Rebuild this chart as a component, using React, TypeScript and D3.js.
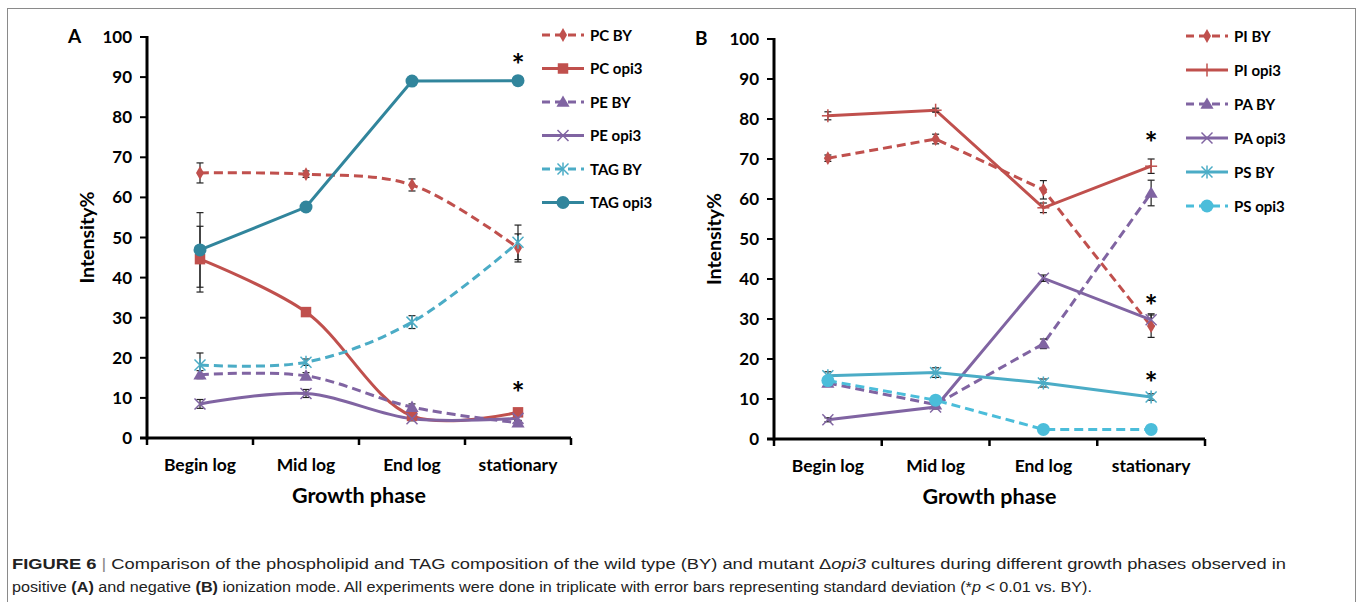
import React from "react";
import * as d3 from "d3";

// growth phases (x categories)
const categories = ["Begin log", "Mid log", "End log", "stationary"];
const yTicks = [0, 10, 20, 30, 40, 50, 60, 70, 80, 90, 100];

// panel A - positive ionization (intensity %)
const pcBY = [66.1, 65.8, 63.1, 47.4];
const pcBYErr = [2.5, 0.8, 1.5, 3.5];
const pcOpi3 = [44.6, 31.4, 5.5, 6.4];
const pcOpi3Err = [8.2, 0.8, 0.5, 0.5];
const peBY = [15.8, 15.5, 7.7, 3.8];
const peBYErr = [1, 0.8, 0.8, 0.5];
const peOpi3 = [8.5, 11.1, 4.8, 4.9];
const peOpi3Err = [1.1, 1, 0.5, 0.5];
const tagBY = [18.2, 18.9, 28.9, 48.8];
const tagBYErr = [3, 0.8, 1.6, 4.3];
const tagOpi3 = [46.9, 57.6, 89, 89.1];
const tagOpi3Err = [9.3, 0.5, 0.5, 0.5];
const starsA = [95, 13.2];

// panel B - negative ionization
const piBY = [70.2, 75, 62.3, 28.2];
const piBYErr = [0.8, 1.2, 2.3, 2.8];
const piOpi3 = [80.8, 82.2, 57.8, 68.2];
const piOpi3Err = [1, 0.5, 1.2, 1.8];
const paBY = [14, 8.6, 23.8, 61.5];
const paBYErr = [0.8, 0.5, 1.2, 3.2];
const paOpi3 = [4.8, 8, 40.2, 29.8];
const paOpi3Err = [0.5, 0.5, 0.8, 1.5];
const psBY = [15.8, 16.6, 14, 10.5];
const psBYErr = [1, 1.2, 1, 0.8];
const psOpi3 = [14.6, 9.7, 2.4, 2.4];
const psOpi3Err = [0.8, 0.8, 0.3, 0.3];
const starsB = [76, 35.3, 16];

const RED = "#C0504D";
const PURPLE = "#8064A2";
const TEAL = "#31859C";
const TEAL_LIGHT = "#4BACC6";
const CYAN = "#4BBDDA";

type Series = {
  name: string;
  values: number[];
  err: number[];
  color: string;
  dashed: boolean;
  marker: string;
  smooth: boolean;
};

const seriesA: Series[] = [
  { name: "PC BY", values: pcBY, err: pcBYErr, color: RED, dashed: true, marker: "diamond", smooth: true },
  { name: "PC opi3", values: pcOpi3, err: pcOpi3Err, color: RED, dashed: false, marker: "square", smooth: true },
  { name: "PE BY", values: peBY, err: peBYErr, color: PURPLE, dashed: true, marker: "triangle", smooth: true },
  { name: "PE opi3", values: peOpi3, err: peOpi3Err, color: PURPLE, dashed: false, marker: "x", smooth: true },
  { name: "TAG BY", values: tagBY, err: tagBYErr, color: TEAL_LIGHT, dashed: true, marker: "star", smooth: true },
  { name: "TAG opi3", values: tagOpi3, err: tagOpi3Err, color: TEAL, dashed: false, marker: "circle", smooth: false },
];

const seriesB: Series[] = [
  { name: "PI BY", values: piBY, err: piBYErr, color: RED, dashed: true, marker: "diamond", smooth: false },
  { name: "PI opi3", values: piOpi3, err: piOpi3Err, color: RED, dashed: false, marker: "plus", smooth: false },
  { name: "PA BY", values: paBY, err: paBYErr, color: PURPLE, dashed: true, marker: "triangle", smooth: false },
  { name: "PA opi3", values: paOpi3, err: paOpi3Err, color: PURPLE, dashed: false, marker: "x", smooth: false },
  { name: "PS BY", values: psBY, err: psBYErr, color: TEAL_LIGHT, dashed: false, marker: "star", smooth: false },
  { name: "PS opi3", values: psOpi3, err: psOpi3Err, color: CYAN, dashed: true, marker: "circle", smooth: false },
];

const FONT = "Lato, 'Open Sans', sans-serif";

function Marker({ type, x, y, color }: { type: string; x: number; y: number; color: string }) {
  if (type === "circle") return <circle cx={x} cy={y} r={6.5} fill={color} />;
  if (type === "x" || type === "star" || type === "plus") {
    const s = 5.5;
    return (
      <g stroke={color} strokeWidth={1.5}>
        {type !== "plus" && <line x1={x - s} y1={y - s} x2={x + s} y2={y + s} />}
        {type !== "plus" && <line x1={x - s} y1={y + s} x2={x + s} y2={y - s} />}
        {type !== "x" && <line x1={x} y1={y - 6.5} x2={x} y2={y + 6.5} />}
        {type === "plus" && <line x1={x - 6} y1={y} x2={x + 6} y2={y} />}
      </g>
    );
  }
  const sym =
    type === "diamond" ? d3.symbolDiamond : type === "square" ? d3.symbolSquare : d3.symbolTriangle;
  const size = type === "diamond" ? 55 : type === "square" ? 110 : 75;
  const path = d3.symbol().type(sym).size(size)() as string;
  return <path d={path} transform={`translate(${x},${y + (type === "triangle" ? 1 : 0)})`} fill={color} />;
}

function Panel({
  label, series, stars, x0, x1, y0, y1, legendX, legendY, legendStep,
}: {
  label: string; series: Series[]; stars: number[];
  x0: number; x1: number; y0: number; y1: number;
  legendX: number; legendY: number; legendStep: number;
}) {
  const x = d3.scaleBand().domain(categories).range([x0, x1]);
  const y = d3.scaleLinear().domain([0, 100]).range([y0, y1]);
  const cx = (c: string) => (x(c) as number) + x.bandwidth() / 2;
  const lastX = cx(categories[categories.length - 1]);

  return (
    <g fontFamily={FONT} fontWeight="bold">
      <text x={x0 - 79} y={y(100) + 6} fontSize={19}>{label}</text>
      {/* y axis */}
      {yTicks.map((t) => (
        <g key={t}>
          <line x1={x0 - 7} x2={x0} y1={y(t)} y2={y(t)} stroke="#000" strokeWidth={2} />
          <text x={x0 - 15} y={y(t) + 6} fontSize={17} textAnchor="end">{t}</text>
        </g>
      ))}
      <line x1={x0} x2={x0} y1={y(100) - 1} y2={y(0) + 1.5} stroke="#000" strokeWidth={3} />
      {/* x axis */}
      <line x1={x0 - 7} x2={x1} y1={y(0)} y2={y(0)} stroke="#000" strokeWidth={3} />
      {categories.concat([""]).map((c, i) => {
        const px = x0 + i * x.bandwidth();
        return <line key={i} x1={px} x2={px} y1={y(0)} y2={y(0) + 7} stroke="#000" strokeWidth={2.5} />;
      })}
      {categories.map((c) => (
        <text key={c} x={cx(c)} y={y(0) + 33} fontSize={17.5} textAnchor="middle">{c}</text>
      ))}
      <text x={(x0 + x1) / 2} y={y(0) + 65} fontSize={21.5} textAnchor="middle">Growth phase</text>
      <text
        transform={`translate(${x0 - 53},${(y(0) + y(100)) / 2}) rotate(-90)`}
        fontSize={19.5}
        textAnchor="middle"
      >
        Intensity%
      </text>

      {/* lines */}
      {series.map((s) => {
        const line = d3
          .line<number>()
          .x((_, i) => cx(categories[i]))
          .y((v) => y(v))
          .curve(s.smooth ? d3.curveCatmullRom : d3.curveLinear);
        return (
          <path
            key={s.name}
            d={line(s.values) as string}
            fill="none"
            stroke={s.color}
            strokeWidth={3}
            strokeDasharray={s.dashed ? "9,5" : undefined}
          />
        );
      })}
      {/* error bars */}
      {series.map((s) =>
        s.values.map((v, i) => {
          const px = cx(categories[i]);
          const e = s.err[i];
          return (
            <g key={s.name + i} stroke="#222" strokeWidth={1.2}>
              <line x1={px} x2={px} y1={y(v - e)} y2={y(v + e)} />
              <line x1={px - 3.5} x2={px + 3.5} y1={y(v - e)} y2={y(v - e)} />
              <line x1={px - 3.5} x2={px + 3.5} y1={y(v + e)} y2={y(v + e)} />
            </g>
          );
        })
      )}
      {/* markers */}
      {series.map((s) =>
        s.values.map((v, i) => (
          <Marker key={s.name + "m" + i} type={s.marker} x={cx(categories[i])} y={y(v)} color={s.color} />
        ))
      )}
      {stars.map((v, i) => (
        <text key={i} x={lastX} y={y(v) + 19} fontSize={31} textAnchor="middle">*</text>
      ))}

      {/* legend */}
      {series.map((s, i) => {
        const ly = legendY + i * legendStep;
        return (
          <g key={s.name}>
            <line
              x1={legendX}
              x2={legendX + 42}
              y1={ly}
              y2={ly}
              stroke={s.color}
              strokeWidth={3}
              strokeDasharray={s.dashed ? "8,5" : undefined}
            />
            <Marker type={s.marker} x={legendX + 21} y={ly} color={s.color} />
            <text x={legendX + 48} y={ly + 5.5} fontSize={15}>{s.name}</text>
          </g>
        );
      })}
    </g>
  );
}

export default function App() {
  return (
    <svg
      width={1358}
      height={602}
      style={{ position: "absolute", left: 0, top: 0, background: "#fff" }}
    >
      <rect x={7.5} y={8.5} width={1348} height={600} fill="#fff" stroke="#8a8a8a" strokeWidth={1} />
      <Panel label="A" series={seriesA} stars={starsA} x0={147} x1={571} y0={438} y1={37}
        legendX={542} legendY={35} legendStep={33.5} />
      <Panel label="B" series={seriesB} stars={starsB} x0={774} x1={1205} y0={439} y1={39}
        legendX={1186} legendY={36} legendStep={34} />
      <g fontFamily="'Liberation Sans Narrow', 'Liberation Sans', Arial, sans-serif" fontSize={15.5} fill="#222">
        <text x={12} y={569} textLength={1274} lengthAdjust="spacingAndGlyphs">
          <tspan fontWeight="bold">FIGURE 6</tspan>
          <tspan fill="#888"> | </tspan>
          <tspan>Comparison of the phospholipid and TAG composition of the wild type (BY) and mutant Δ</tspan>
          <tspan fontStyle="italic">opi3</tspan>
          <tspan> cultures during different growth phases observed in</tspan>
        </text>
        <text x={12} y={592} textLength={1080} lengthAdjust="spacingAndGlyphs">
          <tspan>positive </tspan>
          <tspan fontWeight="bold">(A)</tspan>
          <tspan> and negative </tspan>
          <tspan fontWeight="bold">(B)</tspan>
          <tspan> ionization mode. All experiments were done in triplicate with error bars representing standard deviation (*</tspan>
          <tspan fontStyle="italic">p</tspan>
          <tspan> &lt; 0.01 vs. BY).</tspan>
        </text>
      </g>
    </svg>
  );
}
